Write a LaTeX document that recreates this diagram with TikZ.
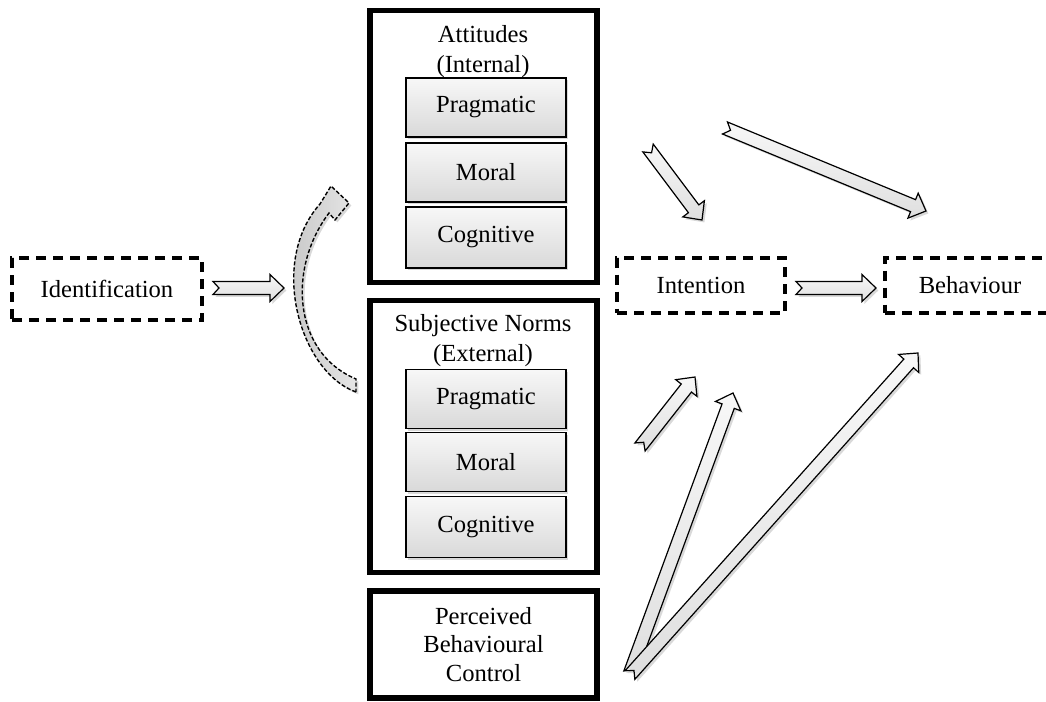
\documentclass[tikz,border=0pt]{standalone}
\usepackage{fontspec}
\setmainfont{Liberation Serif}
\usetikzlibrary{calc,positioning,shadows}

\tikzset{
  softshadow/.style={drop shadow={shadow xshift=1.2pt, shadow yshift=-1.2pt, opacity=0.3}},
  outerbox/.style={draw, line width=2.6pt, minimum width=113.5pt, inner sep=0pt},
  innerbox/.style={draw, line width=0.6pt, top color=gray!6, bottom color=gray!30, minimum width=80pt, minimum height=29.5pt, softshadow},
  dashbox/.style={draw, line width=2pt, dash pattern=on 5pt off 3.5pt, minimum height=27.5pt},
  blockarrow/.style={draw, line width=0.6pt, top color=gray!6, bottom color=gray!25, softshadow},
  curvearrow/.style={draw, line width=0.7pt, dash pattern=on 2pt off 1pt, left color=gray!50, right color=gray!20, softshadow},
}

% block arrow with notched tail, from #1 to #2
\newcommand{\fatarrow}[2]{%
  \path ($(#2)!7pt!(#1)$) coordinate (head) ($(#1)!3pt!(#2)$) coordinate (notch);
  \path[blockarrow] ($(#1)!3.25pt!90:(#2)$) -- ($(head)!3.25pt!-90:(#1)$) -- ($(head)!6.75pt!-90:(#1)$) -- (#2)
    -- ($(head)!6.75pt!90:(#1)$) -- ($(head)!3.25pt!90:(#1)$) -- ($(#1)!3.25pt!-90:(#2)$) -- (notch) -- cycle;
}

\begin{document}
\begin{tikzpicture}[x=0.5pt, y=-0.5pt, every node/.style={font=\fontsize{12.3}{15}\selectfont}]
    \useasboundingbox (0,0) rectangle (1046,702);

    % left and right boxes
    \node[dashbox, minimum width=95pt, minimum height=31pt] (ident) at (107,289) {Identification};
    \node[dashbox, minimum width=84pt] (intent) at (701,285) {Intention};
    \node[dashbox, minimum width=85pt] (behav) at (970,285) {Behaviour};

    % attitudes
    \node[outerbox, minimum height=136pt] (att) at (483.5,146.5) {};
    \node[align=center] (atttitle) at (483,52) {Attitudes\\(Internal)};
    \node[innerbox] (attprag) at (486,107.5) {Pragmatic};
    \node[innerbox] (attmoral) at (486,172.5) {Moral};
    \node[innerbox, minimum height=30.5pt] (attcog) at (486,237.5) {Cognitive};

    % subjective norms
    \node[outerbox, minimum height=136pt] (subj) at (483.5,436.5) {};
    \node[align=center] (subjtitle) at (483,341) {Subjective Norms\\(External)};
    \node[innerbox] (subjprag) at (486,399) {Pragmatic};
    \node[innerbox] (subjmoral) at (486,462) {Moral};
    \node[innerbox, minimum height=30.5pt] (subjcog) at (486,527) {Cognitive};

    % perceived behavioural control
    \node[outerbox, minimum height=53.5pt, align=center, font=\fontsize{12.3}{14.3}\selectfont] (pbc) at (483.5,644.5) {Perceived\\Behavioural\\Control};

    % curved arrow
    \path[curvearrow] (356,392) .. controls (300,372) and (268,262) .. (320,204) -- (331,186) -- (349,203)
        -- (335,220) -- (329,213) .. controls (288,267) and (292,352) .. (356,379) -- cycle;

    % arrow ends
    \coordinate (a1) at (213,288);
    \coordinate (a2) at (284,288);
    \coordinate (b1) at (796,288);
    \coordinate (b2) at (876,288);
    \coordinate (c1) at (648,148);
    \coordinate (c2) at (702,220);
    \coordinate (d1) at (725,128);
    \coordinate (d2) at (926,211);
    \coordinate (e1) at (640,447);
    \coordinate (e2) at (695,377);
    \coordinate (f1) at (630,673);
    \coordinate (f2) at (733,393);
    \coordinate (g1) at (630,675);
    \coordinate (g2) at (918,353);

    \fatarrow{a1}{a2}
    \fatarrow{b1}{b2}
    \fatarrow{c1}{c2}
    \fatarrow{d1}{d2}
    \fatarrow{e1}{e2}
    \fatarrow{f1}{f2}
    \fatarrow{g1}{g2}
\end{tikzpicture}
\end{document}
